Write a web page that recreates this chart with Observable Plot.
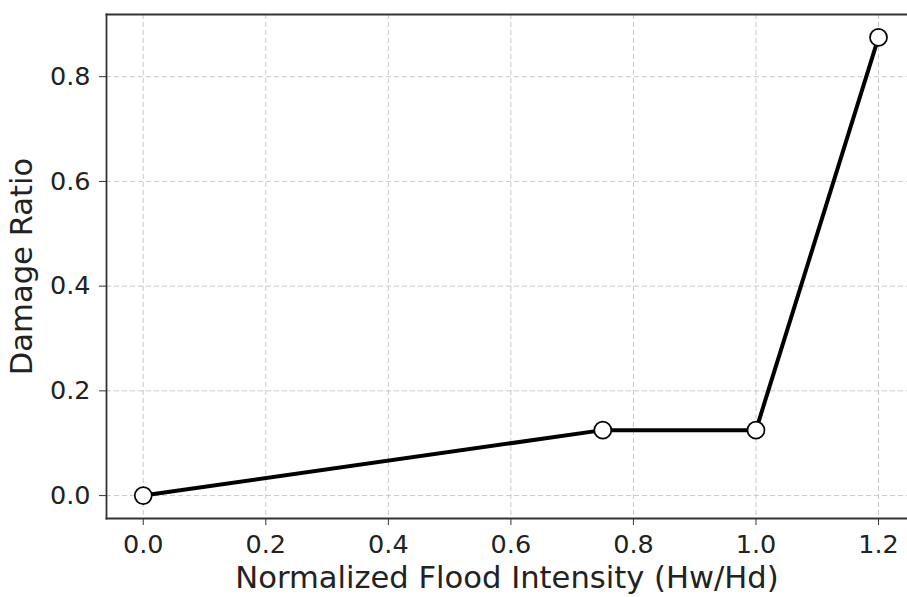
<!DOCTYPE html>
<html>
<head>
<meta charset="utf-8">
<script src="https://cdn.jsdelivr.net/npm/d3@7"></script>
<script src="https://cdn.jsdelivr.net/npm/@observablehq/plot@0.6"></script>
<style>
  html, body { margin: 0; padding: 0; background: #fff; }
  svg { display: block; }
</style>
</head>
<body>
<div id="chart"></div>
<script>
const intensity = [0.0, 0.75, 1.0, 1.2];
const damage = [0.0, 0.125, 0.125, 0.875];
const xTicks = [0.0, 0.2, 0.4, 0.6, 0.8, 1.0, 1.2];
const yTicks = [0.0, 0.2, 0.4, 0.6, 0.8];
const xLabel = "Normalized Flood Intensity (Hw/Hd)";
const yLabel = "Damage Ratio";

const data = intensity.map((x, i) => ({x, y: damage[i]}));
const font = "DejaVu Sans, sans-serif";
const spine = "#333";

const chart = Plot.plot({
  width: 907,
  height: 597,
  marginLeft: 106,
  marginRight: 0,
  marginTop: 14,
  marginBottom: 79,
  style: {fontFamily: font, background: "#fff", color: "#222"},
  x: {domain: [-0.06, 1.2473], ticks: xTicks},
  y: {domain: [-0.04375, 0.91875], ticks: yTicks},
  marks: [
    Plot.gridX(xTicks, {stroke: "#bbb", strokeOpacity: 0.8, strokeWidth: 1, strokeDasharray: "5,3"}),
    Plot.gridY(yTicks, {stroke: "#bbb", strokeOpacity: 0.8, strokeWidth: 1, strokeDasharray: "5,3"}),
    Plot.frame({anchor: "left", stroke: spine, strokeWidth: 1.8}),
    Plot.frame({anchor: "top", stroke: spine, strokeWidth: 1.8}),
    Plot.frame({anchor: "bottom", stroke: spine, strokeWidth: 1.8}),
    Plot.axisX(xTicks, {tickSize: 7, tickPadding: 9, fontSize: 25.5, tickFormat: d => d.toFixed(1), label: null, stroke: spine, color: "#222"}),
    Plot.axisY(yTicks, {tickSize: 7, tickPadding: 9, fontSize: 25.5, tickFormat: d => d.toFixed(1), label: null, stroke: spine, color: "#222"}),
    Plot.line(data, {x: "x", y: "y", stroke: "black", strokeWidth: 4}),
    Plot.dot(data, {x: "x", y: "y", r: 8.5, fill: "white", stroke: "black", strokeWidth: 1.7}),
    Plot.text([xLabel], {frameAnchor: "bottom", dy: 60, text: d => d, fontSize: 30.6, lineAnchor: "middle", textAnchor: "middle", fill: "#222"}),
    Plot.text([yLabel], {frameAnchor: "left", dx: -84, text: d => d, fontSize: 30.6, rotate: -90, lineAnchor: "middle", textAnchor: "middle", fill: "#222"})
  ]
});
document.getElementById("chart").append(chart);
</script>
</body>
</html>
